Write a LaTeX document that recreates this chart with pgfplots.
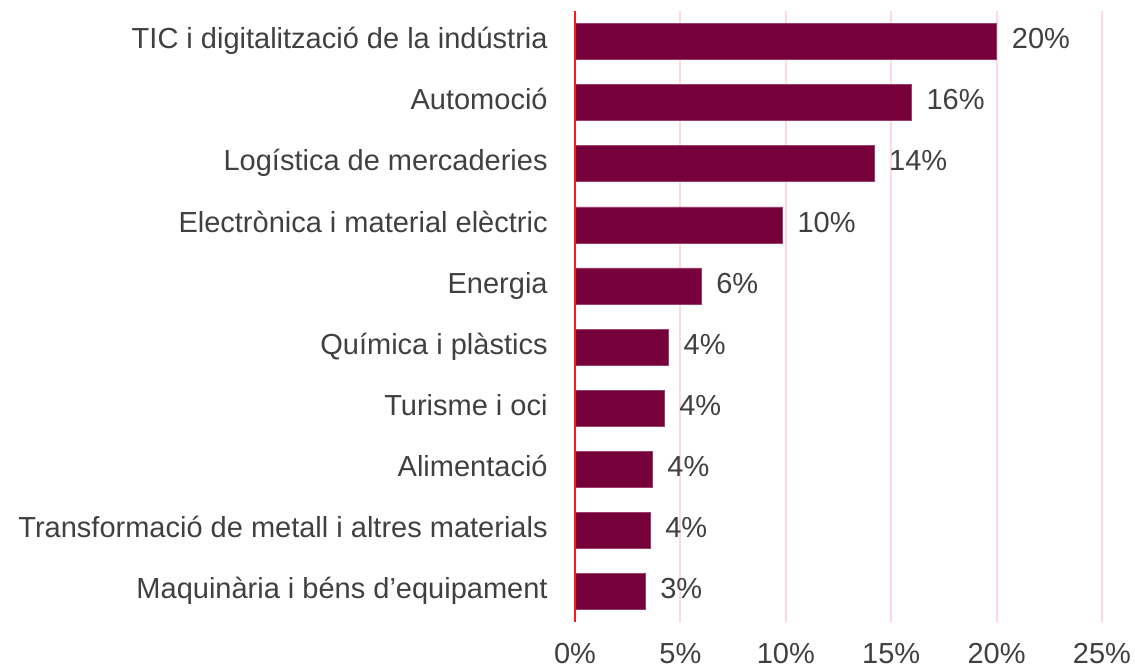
\documentclass[border=0pt]{standalone}
\usepackage{fontspec}
\setmainfont{Liberation Sans}
\usepackage{pgfplots}
\pgfplotsset{compat=1.18}
\definecolor{barc}{HTML}{760039}
\definecolor{gridc}{HTML}{FFDADD}
\definecolor{zeroc}{HTML}{FF1A1A}
\definecolor{txt}{HTML}{404040}
\begin{document}
\begin{tikzpicture}
\path[use as bounding box] (-287.5pt,-24.5pt) rectangle (280pt,311pt);
\begin{axis}[
  at={(0,0)}, anchor=south west,
  scale only axis, width=263.5pt, height=305.5pt,
  xbar, bar width=0.59,
  xmin=0, xmax=25, ymin=-0.5, ymax=9.5,
  axis line style={draw=none},
  major tick length=0pt,
  /pgf/number format/assume math mode=true,
  xtick={0,5,10,15,20,25},
  xticklabel={\pgfmathprintnumber{\tick}\%},
  ytick={0,...,9},
  yticklabels={Maquinària i béns d’equipament, Transformació de metall i altres materials, Alimentació, Turisme i oci, Química i plàstics, Energia, Electrònica i material elèctric, Logística de mercaderies, Automoció, TIC i digitalització de la indústria},
  xmajorgrids, grid style={gridc, line width=1pt},
  ticklabel style={font=\fontsize{14.5}{17}\selectfont, text=txt, inner sep=0pt, text height=0.72em, text depth=0pt},
  yticklabel style={anchor=east, xshift=-13.5pt},
  xticklabel style={anchor=north, yshift=-13.5pt},
  point meta=x,
  nodes near coords={\pgfmathprintnumber[fixed,precision=0]{\pgfplotspointmeta}\%},
  nodes near coords style={anchor=west, inner sep=0pt, xshift=7.5pt, font=\fontsize{14.5}{17}\selectfont, text=txt, text height=0.72em, text depth=0pt},
  clip=false,
]
\addplot[fill=barc, draw=barc!75!white, line width=0.3pt] coordinates {(3.32,0) (3.56,1) (3.66,2) (4.22,3) (4.43,4) (5.98,5) (9.83,6) (14.18,7) (15.95,8) (20.0,9)};
\draw[zeroc, line width=1.2pt] (axis cs:0,-0.5) -- (axis cs:0,9.5);
\end{axis}
\end{tikzpicture}
\end{document}
